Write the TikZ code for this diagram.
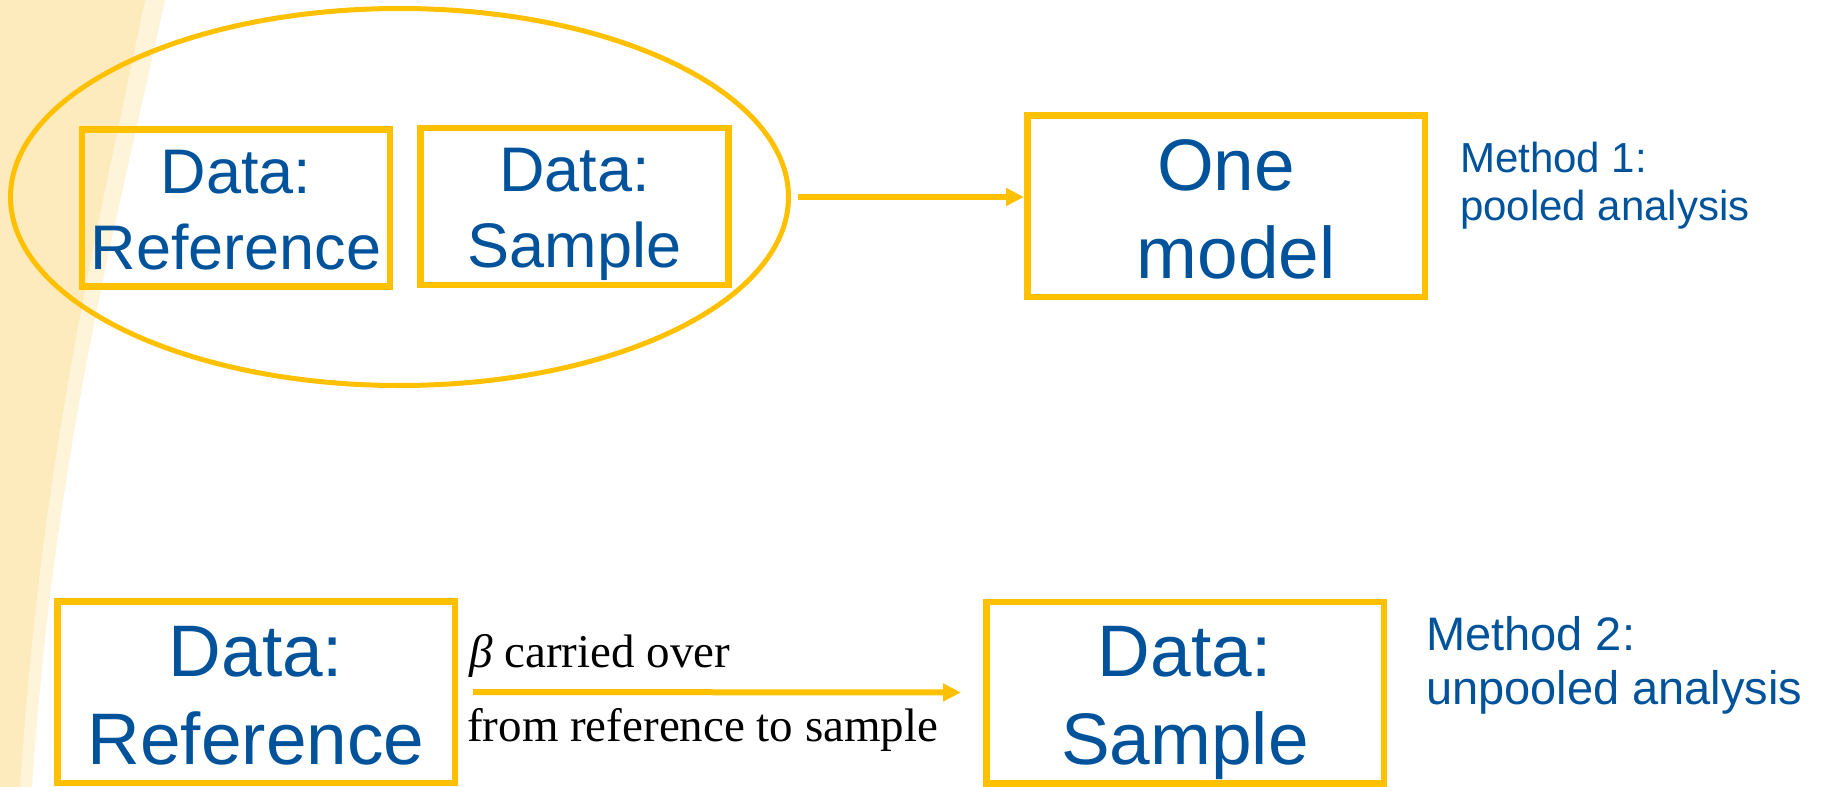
\documentclass[tikz,border=0pt]{standalone}
\usepackage{fontspec}
\setmainfont{Liberation Sans}
\newfontfamily\serifTNR{Liberation Serif}
\usetikzlibrary{arrows.meta,shapes.geometric}
\definecolor{gold}{HTML}{FFC000}
\definecolor{txtblue}{HTML}{00529B}
\definecolor{beigeA}{HTML}{FDEBBE}
\definecolor{beigeB}{HTML}{FEF4DA}
\tikzset{
  databox/.style={draw=gold, line width=6.5pt, inner sep=0pt, align=center, text=txtblue},
  smallbox/.style={databox, minimum width=308pt, minimum height=157pt,
    font=\fontsize{63}{76}\selectfont, text height=122pt, text depth=0pt},
  bigbox/.style={databox, minimum width=397.5pt, minimum height=181.5pt,
    font=\fontsize{73}{88}\selectfont, text height=144pt, text depth=0pt},
  flow/.style={draw=gold, line width=6pt, -{Triangle[length=18pt,width=17pt]}},
  method/.style={text=txtblue, align=left, inner sep=0pt, anchor=base west},
  note/.style={font=\serifTNR\fontsize{47}{74}\selectfont, inner sep=0pt, anchor=base west, text=black},
}
\begin{document}
\begin{tikzpicture}[x=1pt,y=-1pt]
\useasboundingbox (0,0) rectangle (1829,787);
% background band
\fill[beigeB] (0,0) -- (165,0) .. controls (115,230) and (55,450) .. (32,787) -- (0,787) -- cycle;
\fill[beigeA] (0,0) -- (145,0) .. controls (98,230) and (42,450) .. (20,787) -- (0,787) -- cycle;
% method 1
\node[draw=gold, line width=5pt, ellipse, minimum width=778pt, minimum height=377pt, inner sep=0pt] (pool) at (399.5,197) {};
\node[smallbox] (ref1) at (236,208) {Data:\\Reference};
\node[smallbox] (smp1) at (574.5,206.5) {Data:\\Sample};
\node[bigbox] (one) at (1226,206) {One\\\hspace*{0.278em}model};
\node[method, font=\fontsize{42}{48}\selectfont] (m1) at (1460,220) {Method 1:\\pooled analysis};
\draw[flow, shorten <=7pt] (pool.east) -- (pool.east -| one.west);
% method 2
\node[bigbox] (ref2) at (256,692) {Data:\\Reference};
\node[bigbox] (smp2) at (1185,692.5) {Data:\\Sample};
\node[method, font=\fontsize{47}{54}\selectfont] (m2) at (1426,704) {Method 2:\\unpooled analysis};
\draw[flow, shorten <=15pt, shorten >=22pt] (ref2.east) -- (smp2.west);
\node[note] (beta) at (469,667) {\textit{β} carried over};
\node[note] (fromto) at (467,741) {from reference to sample};
\end{tikzpicture}
\end{document}
